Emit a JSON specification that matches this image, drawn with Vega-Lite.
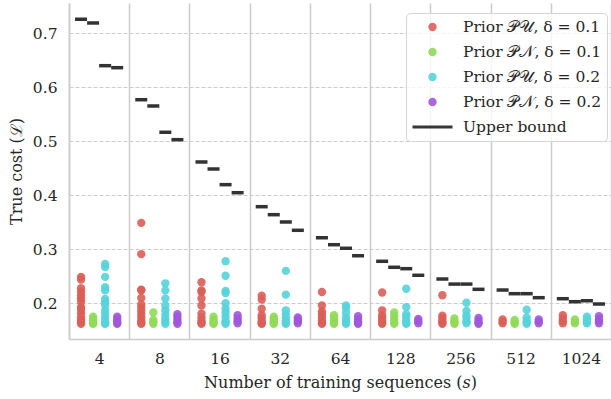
{
  "$schema": "https://vega.github.io/schema/vega-lite/v6.json",
  "width": 542,
  "height": 336,
  "autosize": "none",
  "padding": {"left": 69, "top": 3, "right": 0, "bottom": 60},
  "datasets": {
    "pts": [
      {"s":"4","g":"U1","v":0.249},{"s":"4","g":"U1","v":0.244},{"s":"4","g":"U1","v":0.228},{"s":"4","g":"U1","v":0.222},{"s":"4","g":"U1","v":0.215},{"s":"4","g":"U1","v":0.209},{"s":"4","g":"U1","v":0.203},{"s":"4","g":"U1","v":0.193},{"s":"4","g":"U1","v":0.188},{"s":"4","g":"U1","v":0.181},{"s":"4","g":"U1","v":0.174},{"s":"4","g":"U1","v":0.169},{"s":"4","g":"U1","v":0.165},{"s":"4","g":"U1","v":0.162},
      {"s":"4","g":"N1","v":0.175},{"s":"4","g":"N1","v":0.171},{"s":"4","g":"N1","v":0.168},{"s":"4","g":"N1","v":0.165},{"s":"4","g":"N1","v":0.163},{"s":"4","g":"N1","v":0.162},
      {"s":"4","g":"U2","v":0.273},{"s":"4","g":"U2","v":0.267},{"s":"4","g":"U2","v":0.249},{"s":"4","g":"U2","v":0.230},{"s":"4","g":"U2","v":0.224},{"s":"4","g":"U2","v":0.208},{"s":"4","g":"U2","v":0.203},{"s":"4","g":"U2","v":0.197},{"s":"4","g":"U2","v":0.187},{"s":"4","g":"U2","v":0.180},{"s":"4","g":"U2","v":0.173},{"s":"4","g":"U2","v":0.167},{"s":"4","g":"U2","v":0.163},{"s":"4","g":"U2","v":0.162},
      {"s":"4","g":"N2","v":0.175},{"s":"4","g":"N2","v":0.171},{"s":"4","g":"N2","v":0.167},{"s":"4","g":"N2","v":0.164},{"s":"4","g":"N2","v":0.162},
      {"s":"8","g":"U1","v":0.349},{"s":"8","g":"U1","v":0.291},{"s":"8","g":"U1","v":0.225},{"s":"8","g":"U1","v":0.224},{"s":"8","g":"U1","v":0.210},{"s":"8","g":"U1","v":0.198},{"s":"8","g":"U1","v":0.192},{"s":"8","g":"U1","v":0.186},{"s":"8","g":"U1","v":0.180},{"s":"8","g":"U1","v":0.174},{"s":"8","g":"U1","v":0.168},{"s":"8","g":"U1","v":0.164},{"s":"8","g":"U1","v":0.162},
      {"s":"8","g":"N1","v":0.183},{"s":"8","g":"N1","v":0.169},{"s":"8","g":"N1","v":0.165},{"s":"8","g":"N1","v":0.162},
      {"s":"8","g":"U2","v":0.237},{"s":"8","g":"U2","v":0.224},{"s":"8","g":"U2","v":0.209},{"s":"8","g":"U2","v":0.196},{"s":"8","g":"U2","v":0.187},{"s":"8","g":"U2","v":0.179},{"s":"8","g":"U2","v":0.172},{"s":"8","g":"U2","v":0.166},{"s":"8","g":"U2","v":0.162},
      {"s":"8","g":"N2","v":0.180},{"s":"8","g":"N2","v":0.175},{"s":"8","g":"N2","v":0.170},{"s":"8","g":"N2","v":0.165},{"s":"8","g":"N2","v":0.162},
      {"s":"16","g":"U1","v":0.239},{"s":"16","g":"U1","v":0.224},{"s":"16","g":"U1","v":0.221},{"s":"16","g":"U1","v":0.209},{"s":"16","g":"U1","v":0.196},{"s":"16","g":"U1","v":0.181},{"s":"16","g":"U1","v":0.174},{"s":"16","g":"U1","v":0.168},{"s":"16","g":"U1","v":0.164},{"s":"16","g":"U1","v":0.162},
      {"s":"16","g":"N1","v":0.175},{"s":"16","g":"N1","v":0.170},{"s":"16","g":"N1","v":0.166},{"s":"16","g":"N1","v":0.163},{"s":"16","g":"N1","v":0.162},
      {"s":"16","g":"U2","v":0.278},{"s":"16","g":"U2","v":0.251},{"s":"16","g":"U2","v":0.223},{"s":"16","g":"U2","v":0.219},{"s":"16","g":"U2","v":0.200},{"s":"16","g":"U2","v":0.190},{"s":"16","g":"U2","v":0.183},{"s":"16","g":"U2","v":0.175},{"s":"16","g":"U2","v":0.168},{"s":"16","g":"U2","v":0.164},{"s":"16","g":"U2","v":0.162},
      {"s":"16","g":"N2","v":0.178},{"s":"16","g":"N2","v":0.172},{"s":"16","g":"N2","v":0.167},{"s":"16","g":"N2","v":0.163},
      {"s":"32","g":"U1","v":0.214},{"s":"32","g":"U1","v":0.207},{"s":"32","g":"U1","v":0.190},{"s":"32","g":"U1","v":0.178},{"s":"32","g":"U1","v":0.173},{"s":"32","g":"U1","v":0.167},{"s":"32","g":"U1","v":0.163},{"s":"32","g":"U1","v":0.162},
      {"s":"32","g":"N1","v":0.175},{"s":"32","g":"N1","v":0.171},{"s":"32","g":"N1","v":0.167},{"s":"32","g":"N1","v":0.164},{"s":"32","g":"N1","v":0.162},
      {"s":"32","g":"U2","v":0.260},{"s":"32","g":"U2","v":0.216},{"s":"32","g":"U2","v":0.187},{"s":"32","g":"U2","v":0.180},{"s":"32","g":"U2","v":0.174},{"s":"32","g":"U2","v":0.168},{"s":"32","g":"U2","v":0.164},{"s":"32","g":"U2","v":0.162},
      {"s":"32","g":"N2","v":0.174},{"s":"32","g":"N2","v":0.170},{"s":"32","g":"N2","v":0.166},{"s":"32","g":"N2","v":0.163},
      {"s":"64","g":"U1","v":0.221},{"s":"64","g":"U1","v":0.196},{"s":"64","g":"U1","v":0.185},{"s":"64","g":"U1","v":0.180},{"s":"64","g":"U1","v":0.174},{"s":"64","g":"U1","v":0.168},{"s":"64","g":"U1","v":0.164},{"s":"64","g":"U1","v":0.162},
      {"s":"64","g":"N1","v":0.178},{"s":"64","g":"N1","v":0.172},{"s":"64","g":"N1","v":0.168},{"s":"64","g":"N1","v":0.164},{"s":"64","g":"N1","v":0.162},
      {"s":"64","g":"U2","v":0.196},{"s":"64","g":"U2","v":0.192},{"s":"64","g":"U2","v":0.183},{"s":"64","g":"U2","v":0.174},{"s":"64","g":"U2","v":0.168},{"s":"64","g":"U2","v":0.164},{"s":"64","g":"U2","v":0.162},
      {"s":"64","g":"N2","v":0.176},{"s":"64","g":"N2","v":0.171},{"s":"64","g":"N2","v":0.167},{"s":"64","g":"N2","v":0.164},{"s":"64","g":"N2","v":0.162},
      {"s":"128","g":"U1","v":0.220},{"s":"128","g":"U1","v":0.187},{"s":"128","g":"U1","v":0.178},{"s":"128","g":"U1","v":0.173},{"s":"128","g":"U1","v":0.168},{"s":"128","g":"U1","v":0.164},{"s":"128","g":"U1","v":0.162},
      {"s":"128","g":"N1","v":0.183},{"s":"128","g":"N1","v":0.176},{"s":"128","g":"N1","v":0.170},{"s":"128","g":"N1","v":0.165},{"s":"128","g":"N1","v":0.162},
      {"s":"128","g":"U2","v":0.227},{"s":"128","g":"U2","v":0.193},{"s":"128","g":"U2","v":0.180},{"s":"128","g":"U2","v":0.175},{"s":"128","g":"U2","v":0.169},{"s":"128","g":"U2","v":0.164},{"s":"128","g":"U2","v":0.162},
      {"s":"128","g":"N2","v":0.171},{"s":"128","g":"N2","v":0.167},{"s":"128","g":"N2","v":0.163},
      {"s":"256","g":"U1","v":0.215},{"s":"256","g":"U1","v":0.177},{"s":"256","g":"U1","v":0.173},{"s":"256","g":"U1","v":0.168},{"s":"256","g":"U1","v":0.164},{"s":"256","g":"U1","v":0.162},
      {"s":"256","g":"N1","v":0.172},{"s":"256","g":"N1","v":0.167},{"s":"256","g":"N1","v":0.164},{"s":"256","g":"N1","v":0.162},
      {"s":"256","g":"U2","v":0.201},{"s":"256","g":"U2","v":0.186},{"s":"256","g":"U2","v":0.178},{"s":"256","g":"U2","v":0.173},{"s":"256","g":"U2","v":0.167},{"s":"256","g":"U2","v":0.163},
      {"s":"256","g":"N2","v":0.173},{"s":"256","g":"N2","v":0.168},{"s":"256","g":"N2","v":0.164},{"s":"256","g":"N2","v":0.162},
      {"s":"512","g":"U1","v":0.170},{"s":"512","g":"U1","v":0.166},{"s":"512","g":"U1","v":0.163},
      {"s":"512","g":"N1","v":0.169},{"s":"512","g":"N1","v":0.165},{"s":"512","g":"N1","v":0.162},
      {"s":"512","g":"U2","v":0.188},{"s":"512","g":"U2","v":0.174},{"s":"512","g":"U2","v":0.168},{"s":"512","g":"U2","v":0.164},{"s":"512","g":"U2","v":0.162},
      {"s":"512","g":"N2","v":0.170},{"s":"512","g":"N2","v":0.166},{"s":"512","g":"N2","v":0.163},
      {"s":"1024","g":"U1","v":0.178},{"s":"1024","g":"U1","v":0.172},{"s":"1024","g":"U1","v":0.167},{"s":"1024","g":"U1","v":0.163},
      {"s":"1024","g":"N1","v":0.170},{"s":"1024","g":"N1","v":0.166},{"s":"1024","g":"N1","v":0.163},
      {"s":"1024","g":"U2","v":0.175},{"s":"1024","g":"U2","v":0.170},{"s":"1024","g":"U2","v":0.166},{"s":"1024","g":"U2","v":0.163},
      {"s":"1024","g":"N2","v":0.176},{"s":"1024","g":"N2","v":0.170},{"s":"1024","g":"N2","v":0.166},{"s":"1024","g":"N2","v":0.163}
    ],
    "ub": [
      {"s":"4","g":"U1","v":0.7259},{"s":"4","g":"N1","v":0.7191},{"s":"4","g":"U2","v":0.6400},{"s":"4","g":"N2","v":0.6363},
      {"s":"8","g":"U1","v":0.5770},{"s":"8","g":"N1","v":0.5654},{"s":"8","g":"U2","v":0.5167},{"s":"8","g":"N2","v":0.5030},
      {"s":"16","g":"U1","v":0.4617},{"s":"16","g":"N1","v":0.4487},{"s":"16","g":"U2","v":0.4197},{"s":"16","g":"N2","v":0.4048},
      {"s":"32","g":"U1","v":0.3789},{"s":"32","g":"N1","v":0.3641},{"s":"32","g":"U2","v":0.3506},{"s":"32","g":"N2","v":0.3352},
      {"s":"64","g":"U1","v":0.3215},{"s":"64","g":"N1","v":0.3085},{"s":"64","g":"U2","v":0.3019},{"s":"64","g":"N2","v":0.2881},
      {"s":"128","g":"U1","v":0.2778},{"s":"128","g":"N1","v":0.2667},{"s":"128","g":"U2","v":0.2641},{"s":"128","g":"N2","v":0.2519},
      {"s":"256","g":"U1","v":0.2450},{"s":"256","g":"N1","v":0.2356},{"s":"256","g":"U2","v":0.2356},{"s":"256","g":"N2","v":0.2259},
      {"s":"512","g":"U1","v":0.2246},{"s":"512","g":"N1","v":0.2178},{"s":"512","g":"U2","v":0.2178},{"s":"512","g":"N2","v":0.2104},
      {"s":"1024","g":"U1","v":0.2085},{"s":"1024","g":"N1","v":0.2030},{"s":"1024","g":"U2","v":0.2048},{"s":"1024","g":"N2","v":0.1987}
    ]
  },
  "encoding": {
    "x": {
      "field": "s", "type": "ordinal",
      "sort": ["4","8","16","32","64","128","256","512","1024"],
      "scale": {"paddingInner": 0, "paddingOuter": 0},
      "axis": {
        "title": "Number of training sequences (𝑠)",
        "labelAngle": 0, "ticks": false, "labelPadding": 12,
        "grid": true, "tickBand": "extent", "gridColor": "#cccccc", "gridWidth": 1.5,
        "domainColor": "#cccccc", "domainWidth": 1.5, "titlePadding": 8
      }
    },
    "xOffset": {
      "field": "g", "type": "nominal",
      "scale": {"domain": ["U1","N1","U2","N2"], "paddingInner": 0, "paddingOuter": 0.5}
    },
    "y": {
      "field": "v", "type": "quantitative",
      "scale": {"domain": [0.1339, 0.7561], "nice": false, "zero": false},
      "axis": {
        "title": "True cost (ℒ)",
        "values": [0.2,0.3,0.4,0.5,0.6,0.7], "format": ".1f",
        "ticks": false, "labelPadding": 12,
        "gridDash": [4,2], "gridColor": "#cccccc", "gridWidth": 1,
        "domainColor": "#cccccc", "domainWidth": 1.5, "titlePadding": 8
      }
    }
  },
  "layer": [
    {
      "data": {"name": "pts"},
      "mark": {"type": "point", "filled": true, "opacity": 0.9},
      "encoding": {
        "color": {
          "field": "g", "type": "nominal",
          "scale": {
            "domain": ["U1","N1","U2","N2","UB"],
            "range": ["#db5f57","#91db57","#57d3db","#a157db","#222222"]
          },
          "legend": {
            "orient": "none", "legendX": 337, "legendY": 10,
            "title": null,
            "clipHeight": 18, "rowPadding": 7, "padding": 5,
            "labelOffset": 9, "labelLimit": 300,
            "symbolStrokeWidth": 3,
            "labelFont": "DejaVu Serif", "labelFontSize": 15.5, "labelColor": "#262626",
            "fillColor": "rgba(255,255,255,0.8)", "strokeColor": "#d5d5d5", "cornerRadius": 4,
            "labelExpr": "datum.value === 'U1' ? 'Prior 𝒫𝒰, δ = 0.1' : datum.value === 'N1' ? 'Prior 𝒫𝒩, δ = 0.1' : datum.value === 'U2' ? 'Prior 𝒫𝒰, δ = 0.2' : datum.value === 'N2' ? 'Prior 𝒫𝒩, δ = 0.2' : 'Upper bound'"
          }
        },
        "shape": {
          "field": "g", "type": "nominal",
          "scale": {
            "domain": ["U1","N1","U2","N2","UB"],
            "range": ["circle","circle","circle","circle","stroke"]
          }
        },
        "size": {
          "field": "g", "type": "ordinal",
          "scale": {
            "type": "ordinal",
            "domain": ["U1","N1","U2","N2","UB"],
            "range": [70,70,70,70,1600]
          }
        },
        "stroke": {
          "field": "g", "type": "nominal",
          "scale": {
            "domain": ["U1","N1","U2","N2","UB"],
            "range": ["transparent","transparent","transparent","transparent","#222222"]
          }
        }
      }
    },
    {
      "data": {"name": "ub"},
      "mark": {"type": "tick", "size": 12, "thickness": 3.5, "color": "#333333", "opacity": 1}
    }
  ],
  "config": {
    "view": {"stroke": null},
    "font": "DejaVu Serif",
    "axis": {
      "labelFont": "DejaVu Serif", "titleFont": "DejaVu Serif",
      "labelFontSize": 15.5, "titleFontSize": 16, "titleFontWeight": "normal",
      "labelColor": "#262626", "titleColor": "#262626"
    }
  }
}
